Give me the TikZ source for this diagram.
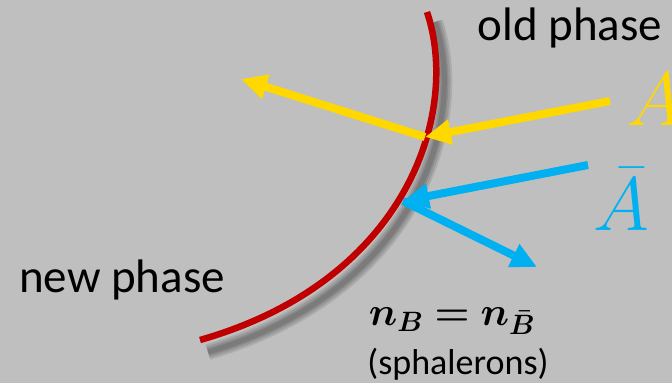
\RequirePackage{fix-cm}
\documentclass[tikz,border=0pt]{standalone}
\usepackage{fontspec}
\setmainfont{Carlito}
\usepackage{bm}
\usepackage{xcolor}
\usepackage{tikz}
\usetikzlibrary{arrows.meta}

\definecolor{bggray}{HTML}{BFBFBF}
\definecolor{wallred}{HTML}{C00000}
\definecolor{partyellow}{HTML}{FFD800}
\definecolor{antiblue}{HTML}{00B0F0}

\begin{document}
\begin{tikzpicture}[x=1pt, y=-1pt,
    label/.style={font=\fontsize{47}{56}\selectfont, inner sep=0pt},
    sym/.style={font=\fontsize{76}{90}\selectfont, inner sep=0pt, anchor=base west},
    ray/.style={line width=8pt, -{Triangle[length=26pt, width=24pt]}},
    wall/.style={line width=6.5pt, wallred},
    shade/.style={line width=#1, black, opacity=0.1},
]

% === BACKGROUND ===
\fill[bggray] (0,0) rectangle (672,383);
\useasboundingbox (0,0) rectangle (672,383);

% === BUBBLE WALL (with soft shadow) ===
\foreach \w in {16pt,12pt,8pt,5pt}
    \draw[shade=\w] (435,22) .. controls (468,120) and (418,290) .. (208,352);
\draw[wall] (427,12) .. controls (460,110) and (410,280) .. (200,340);

% === POINTS ON THE WALL ===
\coordinate (hitA)    at (425,137);
\coordinate (hitAbar) at (403,201);
\coordinate (inA)     at (610,101);
\coordinate (outA)    at (241,79);
\coordinate (inAbar)  at (588,165);
\coordinate (outAbar) at (537,267);

% === PARTICLES ===
\draw[ray, partyellow] (inA) -- (hitA);
\draw[ray, partyellow, line cap=butt] (hitA) -- (outA);
\draw[ray, antiblue] (inAbar) -- (hitAbar);
\draw[ray, antiblue] (hitAbar) -- (outAbar);

% === LABELS ===
\node[label] (old) at (570,28) {old phase};
\node[label] (new) at (122,280) {new phase};
\node[sym, text=partyellow] (symA) at (626,125) {$A$};
\node[sym, text=antiblue] (symAbar) at (593,230) {$\bar{A}$};
\node[font=\fontsize{40}{48}\selectfont, inner sep=0pt, anchor=base] (nb)
    at (452,325) {$\bm{n_B = n_{\bar{B}}}$};
\node[font=\fontsize{36}{42}\selectfont, inner sep=0pt] (sph)
    at (458,364) {(sphalerons)};

\end{tikzpicture}
\end{document}
